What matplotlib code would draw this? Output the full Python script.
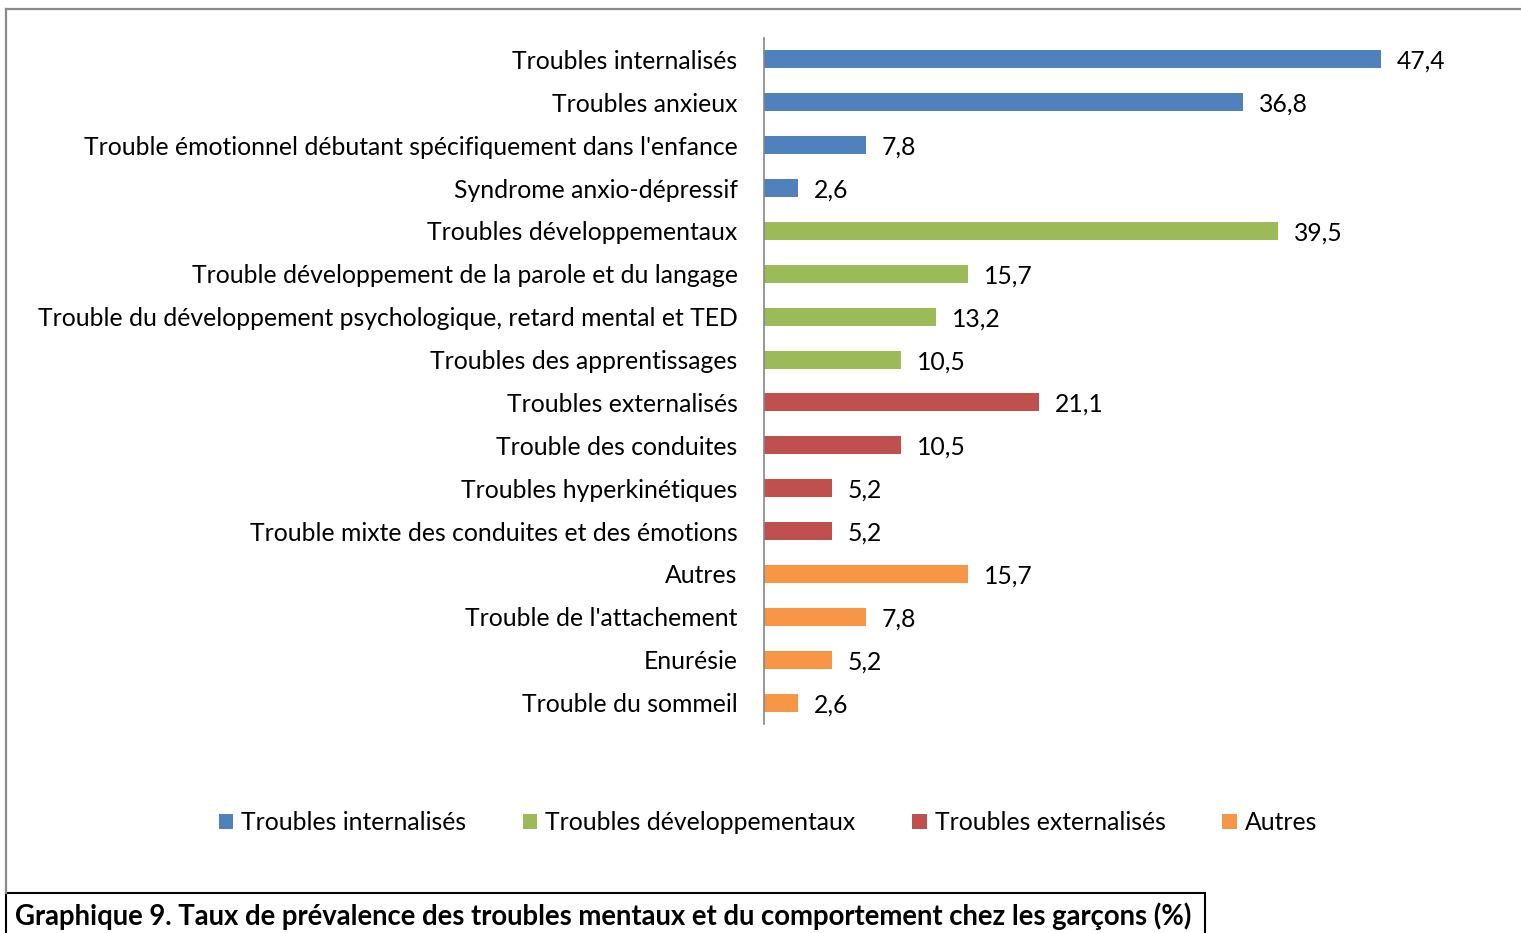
import matplotlib
matplotlib.use("Agg")
import matplotlib.pyplot as plt
from matplotlib.lines import Line2D
from matplotlib.patches import Rectangle, Patch

categories = [
    "Troubles internalisés",
    "Troubles anxieux",
    "Trouble émotionnel débutant spécifiquement dans l'enfance",
    "Syndrome anxio-dépressif",
    "Troubles développementaux",
    "Trouble développement de la parole et du langage",
    "Trouble du développement psychologique, retard mental et TED",
    "Troubles des apprentissages",
    "Troubles externalisés",
    "Trouble des conduites",
    "Troubles hyperkinétiques",
    "Trouble mixte des conduites et des émotions",
    "Autres",
    "Trouble de l'attachement",
    "Enurésie",
    "Trouble du sommeil",
]
values = [47.4, 36.8, 7.8, 2.6, 39.5, 15.7, 13.2, 10.5, 21.1, 10.5, 5.2, 5.2, 15.7, 7.8, 5.2, 2.6]
groups = [0, 0, 0, 0, 1, 1, 1, 1, 2, 2, 2, 2, 3, 3, 3, 3]
group_names = ["Troubles internalisés", "Troubles développementaux", "Troubles externalisés", "Autres"]
group_colors = ["#4F81BD", "#9BBB59", "#C0504D", "#F79646"]
title = "Graphique 9. Taux de prévalence des troubles mentaux et du comportement chez les garçons (%)"

W, H = 1521, 933
fig = plt.figure(figsize=(W / 100, H / 100), dpi=100)
FONT = "Lato"
FS = 17.8

def fx(px):
    return px / W

def fy(py):
    return 1 - py / H

# outer frame (gray)
fig.add_artist(Line2D([fx(5.5), fx(5.5)], [fy(8.5), fy(893)], color="#8a8a8a", lw=1.6))
fig.add_artist(Line2D([fx(5.5), fx(1521)], [fy(8.5), fy(8.5)], color="#8a8a8a", lw=1.6))

ax_left, ax_right = 764, 764 + 55 * 13.02
ax_top, ax_bot = 38, 724
ax = fig.add_axes([fx(ax_left), fy(ax_bot), fx(ax_right) - fx(ax_left), (ax_bot - ax_top) / H])
y = list(range(len(categories)))
cols = [group_colors[g] for g in groups]
ax.barh(y, values, height=0.42, color=cols)
ax.set_xlim(0, 55)
ax.set_ylim(len(categories) - 0.5, -0.5)
for s in ["top", "right", "bottom"]:
    ax.spines[s].set_visible(False)
ax.spines["left"].set_color("#868686")
ax.spines["left"].set_linewidth(1.2)
ax.set_xticks([])
ax.set_yticks(y)
ax.set_yticklabels(categories, fontsize=FS, family=FONT)
ax.tick_params(axis="y", length=0, pad=19)
for yi, v in zip(y, values):
    ax.annotate(f"{v:.1f}".replace(".", ","), (v, yi), xytext=(11.5, -1.5), textcoords="offset points",
                va="center", ha="left", fontsize=FS, family=FONT)

handles = [Patch(facecolor=c, edgecolor="none") for c in group_colors]
fig.legend(handles, group_names, loc="center", bbox_to_anchor=(fx(768), fy(823)), ncol=4,
           frameon=False, prop={"family": FONT, "size": FS}, handlelength=0.57, handleheight=0.57,
           handletextpad=0.33, columnspacing=2.3)

# caption box
fig.add_artist(Rectangle((fx(6), fy(940)), fx(1205) - fx(6), fy(893) - fy(940),
                         fill=False, edgecolor="black", lw=1.5))
fig.text(fx(15), fy(916), title, ha="left", va="center", fontsize=19.8, fontweight="bold", family=FONT)

fig.savefig("out.png", dpi=100)
